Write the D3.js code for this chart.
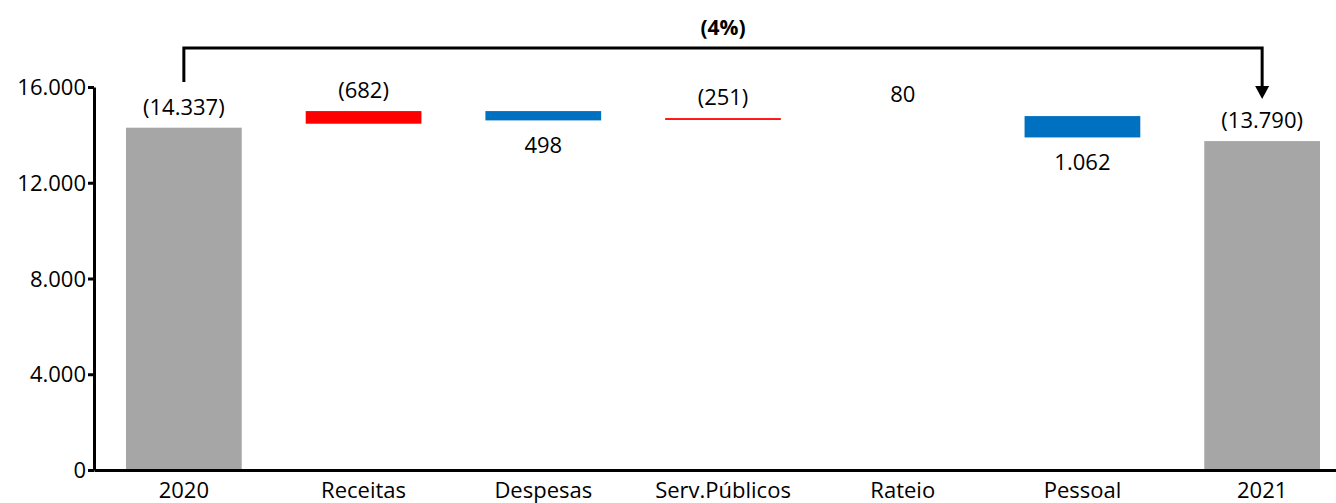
<!DOCTYPE html>
<html><head><meta charset="utf-8">
<script src="https://cdn.jsdelivr.net/npm/d3@7"></script>
<style>
html,body{margin:0;padding:0;background:#fff;}
svg{display:block;font-family:"Open Sans",sans-serif;}
</style></head>
<body>
<svg id="chart" width="1336" height="503"></svg>
<script>
const categories = ["2020","Receitas","Despesas","Serv.Públicos","Rateio","Pessoal","2021"];
const valueLabels = ["(14.337)","(682)","498","(251)","80","1.062","(13.790)"];
const kinds = ["total","up","down","up","none","down","total"];
const barLow  = [0, 14466, 14605, 14625, 14850, 13893, 0];
const barHigh = [14300, 14994, 14994, 14700, 14850, 14785, 13740];
const yTicks = [0, 4000, 8000, 12000, 16000];
const changeLabel = "(4%)";

const colors = {total:"#A6A6A6", up:"#FF0000", down:"#0070C0", none:"none"};
const locale = d3.formatLocale({decimal:",", thousands:".", grouping:[3], currency:["",""]});
const fmt = locale.format(",");

const svg = d3.select("#chart");
const y = d3.scaleLinear().domain([0,16000]).range([470,87]);
const x = d3.scaleBand().domain(categories).range([94,1352]).paddingInner(0.356).paddingOuter(0.178);

// bars
svg.append("g").selectAll("rect").data(categories).join("rect")
  .attr("x", d => x(d))
  .attr("width", x.bandwidth())
  .attr("y", (d,i) => y(barHigh[i]))
  .attr("height", (d,i) => Math.max(0, y(barLow[i]) - y(barHigh[i])))
  .attr("fill", (d,i) => colors[kinds[i]]);

// value labels
svg.append("g").selectAll("text").data(categories).join("text")
  .attr("x", d => x(d) + x.bandwidth()/2)
  .attr("y", (d,i) => kinds[i] === "down" ? y(barLow[i]) + 24 : y(barHigh[i]) - 22)
  .attr("text-anchor","middle")
  .attr("dominant-baseline","central")
  .attr("font-size", 22)
  .attr("fill","#000")
  .text((d,i) => valueLabels[i]);

// y axis
const ya = svg.append("g").attr("transform","translate(94,0)")
  .call(d3.axisLeft(y).tickValues(yTicks).tickFormat(fmt).tickSize(6).tickSizeOuter(0));
ya.select(".domain").attr("stroke","#000").attr("stroke-width",3);
ya.selectAll(".tick line").attr("stroke","#000").attr("stroke-width",3);
ya.selectAll(".tick text").attr("font-size",22).attr("font-family","'Open Sans',sans-serif").attr("fill","#000").attr("x",-8).attr("dy","0.35em");

// x axis
const xa = svg.append("g").attr("transform","translate(0,470)")
  .call(d3.axisBottom(x).tickSize(0).tickSizeOuter(0));
xa.select(".domain").attr("stroke","#000").attr("stroke-width",3);
xa.selectAll(".tick text").attr("font-size",22).attr("font-family","'Open Sans',sans-serif").attr("fill","#000").attr("y",12).attr("dy","0.71em");

// bracket with arrow
const x0 = x(categories[0]) + x.bandwidth()/2;
const x1 = x(categories[categories.length-1]) + x.bandwidth()/2;
svg.append("path")
  .attr("d", `M${x0},82V48H${x1}V88`)
  .attr("fill","none").attr("stroke","#000").attr("stroke-width",3);
svg.append("path")
  .attr("d", `M${x1-7},86L${x1+7},86L${x1},99Z`)
  .attr("fill","#000");
svg.append("text")
  .attr("x",(x0+x1)/2).attr("y",27)
  .attr("text-anchor","middle").attr("dominant-baseline","central")
  .attr("font-size",21).attr("font-weight","bold").attr("fill","#000")
  .text(changeLabel);
</script>
</body></html>
